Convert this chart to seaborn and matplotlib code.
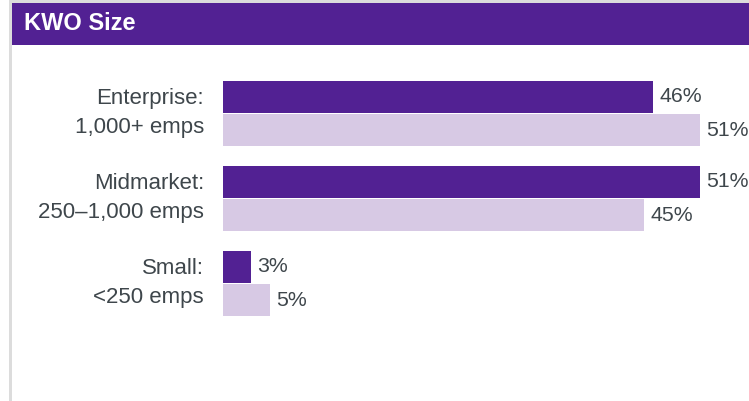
import matplotlib
matplotlib.use("Agg")
import matplotlib.pyplot as plt
from matplotlib.patches import Rectangle
from matplotlib.transforms import ScaledTranslation, blended_transform_factory
import pandas as pd
import seaborn as sns

# Data
segments = ["Enterprise:\n1,000+ emps", "Midmarket:\n250\u20131,000 emps", "Small:\n<250 emps"]
wave_1 = [46, 51, 3]
wave_2 = [51, 45, 5]
waves = ["Wave 1", "Wave 2"]
title = "KWO Size"

PURPLE = "#522193"
LAVENDER = "#d7c9e4"
TEXT = "#3e464b"
BORDER = "#dcdcdc"

df = pd.DataFrame({
    "segment": segments * 2,
    "wave": [waves[0]] * 3 + [waves[1]] * 3,
    "share": wave_1 + wave_2,
})

sns.set_theme(style="white")
plt.rcParams["font.family"] = ["Liberation Sans", "DejaVu Sans"]

W, H = 749, 401
fig = plt.figure(figsize=(W / 100, H / 100), dpi=100)
fig.patch.set_facecolor("white")

# Card frame and header band
fig.patches.append(Rectangle((9 / W, 0), 3 / W, 1, transform=fig.transFigure,
                             facecolor=BORDER, edgecolor="none", zorder=0))
fig.patches.append(Rectangle((9 / W, 1 - 3 / H), 1, 3 / H, transform=fig.transFigure,
                             facecolor=BORDER, edgecolor="none", zorder=0))
fig.patches.append(Rectangle((12 / W, 1 - 45 / H), 1, 42 / H, transform=fig.transFigure,
                             facecolor=PURPLE, edgecolor="none", zorder=1))
fig.text(24 / W, 1 - 23.5 / H, title, color="white", fontsize=17, fontweight="bold",
         ha="left", va="center")

# Bar axes
left_px, top_px = 223, 50
ax = fig.add_axes([left_px / W, 0, (W - left_px) / W, (H - top_px) / H])
ax.set_facecolor("none")

sns.barplot(data=df, y="segment", x="share", hue="wave", order=segments,
            hue_order=waves, palette=[PURPLE, LAVENDER], orient="h",
            width=0.788, gap=0.045, legend=False, ax=ax, saturation=1,
            linewidth=0, edgecolor="none")

px_per_unit = 9.35
ax.set_xlim(0, (W - left_px) / px_per_unit)
pitch = 85.0
c0 = 113.5
ax.set_ylim((H - c0) / pitch, (top_px - c0) / pitch)

for cont in ax.containers:
    ax.bar_label(cont, fmt="%g%%", padding=4.6, color=TEXT, fontsize=15.3, clip_on=False)

# Category labels, right-aligned a little left of the bars
label_tr = blended_transform_factory(ax.transAxes, ax.transData) + \
    ScaledTranslation(-19 / 100, 0.5 / 100, fig.dpi_scale_trans)
for i, seg in enumerate(segments):
    ax.text(0, i, seg, transform=label_tr, ha="right", va="center",
            fontsize=16, color=TEXT, linespacing=1.5, clip_on=False)

ax.set_xlabel("")
ax.set_ylabel("")
ax.set_xticks([])
ax.set_yticks([])
sns.despine(ax=ax, left=True, bottom=True)

fig.savefig("out.png", dpi=100)
